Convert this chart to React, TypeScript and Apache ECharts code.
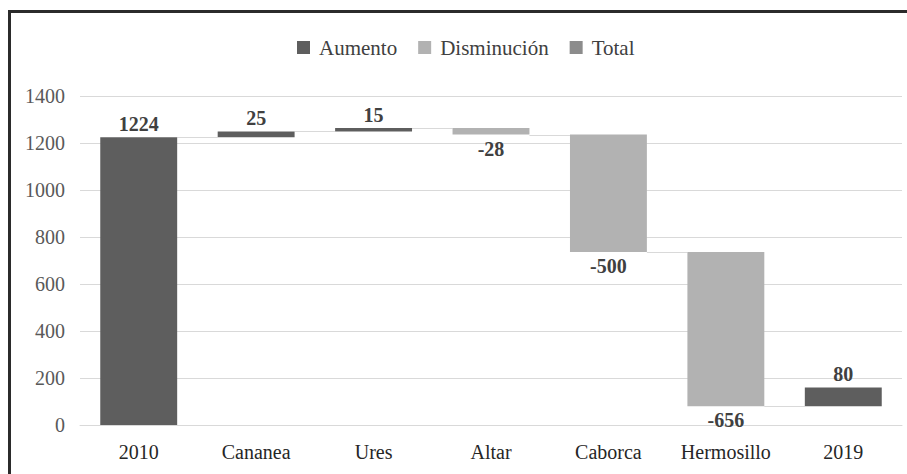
import React, { useEffect, useRef } from "react";
import * as echarts from "echarts";

const categories = ["2010", "Cananea", "Ures", "Altar", "Caborca", "Hermosillo", "2019"];
// signed change per category (2010 and 2019 shown as increases, as in the source)
const changes = [1224, 25, 15, -28, -500, -656, 80];
// level at which each bar starts (2019 drawn from the running total, as in the source)
const starts = [0, 1224, 1249, 1264, 1236, 736, 80];
const yTicks = { min: 0, max: 1400, interval: 200 };
const legendNames = ["Aumento", "Disminución", "Total"];

const FONT = "Liberation Serif";
const BAR_RATIO = 0.655;

export default function App() {
  const ref = useRef<HTMLDivElement>(null);
  useEffect(() => {
    if (!ref.current) return;
    const chart = echarts.init(ref.current, undefined, { renderer: "svg" });

    const base = changes.map((c, i) => (c >= 0 ? starts[i] : starts[i] + c));
    const up = changes.map((c) => (c >= 0 ? c : "-"));
    const down = changes.map((c) => (c < 0 ? -c : "-"));
    const ends = changes.map((c, i) => starts[i] + c);
    const connectors = ends.slice(0, -1).map((v, i) => [i, i === ends.length - 2 ? starts[i + 1] : v]);

    const legendText = { fontFamily: FONT, fontSize: 21, color: "#404040", padding: [0, 0, 0, 4] };

    chart.setOption({
      animation: false,
      textStyle: { fontFamily: FONT },
      color: ["#5e5e5e", "#b2b2b2", "#8c8c8c"],
      legend: {
        data: legendNames.map((n) => ({ name: n, icon: "rect" })),
        left: 292,
        top: 32,
        itemWidth: 13,
        itemHeight: 13,
        itemGap: 21,
        textStyle: legendText,
      },
      grid: { left: 80, right: 5, top: 96, bottom: 49, containLabel: false },
      xAxis: {
        type: "category",
        data: categories,
        axisTick: { show: false },
        axisLine: { lineStyle: { color: "#d9d9d9", width: 1 } },
        axisLabel: { fontFamily: FONT, fontSize: 20, color: "#262626", margin: 17 },
      },
      yAxis: {
        type: "value",
        min: yTicks.min,
        max: yTicks.max,
        interval: yTicks.interval,
        axisLine: { show: false },
        axisTick: { show: false },
        splitLine: { lineStyle: { color: "#d9d9d9", width: 1 } },
        axisLabel: {
          fontFamily: FONT,
          fontSize: 20,
          color: "#595959",
          margin: 15,
          formatter: (v: number) => String(v),
        },
      },
      graphic: [
        { type: "line", shape: { x1: 9.5, y1: 10, x2: 9.5, y2: 474 }, style: { stroke: "#2b2b2b", lineWidth: 3 } },
        { type: "line", shape: { x1: 8, y1: 11.5, x2: 907, y2: 11.5 }, style: { stroke: "#2b2b2b", lineWidth: 3 } },
      ],
      series: [
        {
          type: "custom",
          name: "conn",
          z: 1,
          data: connectors,
          encode: { x: 0, y: 1 },
          renderItem: (params: any, api: any) => {
            const i = api.value(0);
            const lvl = api.value(1);
            const p1 = api.coord([i, lvl]);
            const p2 = api.coord([i + 1, lvl]);
            const half = (api.size([1, 0])[0] * BAR_RATIO) / 2;
            return {
              type: "line",
              shape: { x1: p1[0] + half, y1: Math.round(p1[1]) + 0.5, x2: p2[0] - half, y2: Math.round(p2[1]) + 0.5 },
              style: { stroke: "#d9d9d9", lineWidth: 1.2 },
            };
          },
        },
        {
          type: "bar",
          name: "base",
          stack: "w",
          barWidth: (BAR_RATIO * 100).toFixed(1) + "%",
          itemStyle: { color: "transparent" },
          emphasis: { disabled: true },
          data: base,
          z: 2,
        },
        {
          type: "bar",
          name: "Aumento",
          stack: "w",
          z: 2,
          data: up,
          itemStyle: { color: "#5e5e5e" },
          label: {
            show: true,
            position: "top",
            distance: 3,
            fontFamily: FONT,
            fontSize: 20,
            fontWeight: "bold",
            color: "#404040",
          },
        },
        {
          type: "bar",
          name: "Disminución",
          stack: "w",
          z: 2,
          data: down,
          itemStyle: { color: "#b2b2b2" },
          label: {
            show: true,
            position: "bottom",
            distance: 4,
            fontFamily: FONT,
            fontSize: 20,
            fontWeight: "bold",
            color: "#404040",
            formatter: (p: any) => "-" + p.value,
          },
        },
        {
          type: "bar",
          name: "Total",
          stack: "w",
          z: 2,
          data: [],
          itemStyle: { color: "#8c8c8c" },
        },
      ],
    });
    return () => chart.dispose();
  }, []);
  return <div ref={ref} style={{ position: "fixed", left: 0, top: 0, width: 907, height: 474, background: "#fff" }} />;
}
